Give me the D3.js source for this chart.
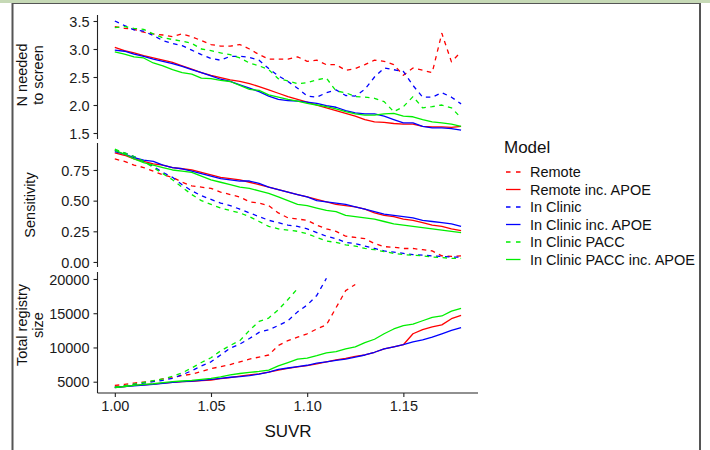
<!DOCTYPE html>
<html><head><meta charset="utf-8">
<script src="https://cdn.jsdelivr.net/npm/d3@7"></script>
<style>
html,body{margin:0;padding:0;background:#fff;}
svg{display:block;font-family:"Liberation Sans",Arial,Helvetica,sans-serif;}
</style></head>
<body><svg id="c" width="710" height="450"></svg>
<script>
// ---- data ----
const suvr = [1.000,1.005,1.010,1.015,1.020,1.025,1.030,1.035,1.040,1.045,1.050,1.055,1.060,1.065,1.070,1.075,1.080,1.085,1.090,1.095,1.100,1.105,1.110,1.115,1.120,1.125,1.130,1.135,1.140,1.145,1.150,1.155,1.160,1.165,1.170,1.175,1.180];

const models = ["Remote","Remote inc. APOE","In Clinic","In Clinic inc. APOE","In Clinic PACC","In Clinic PACC inc. APOE"];
const modelColors = ["#ff0000","#ff0000","#0000ff","#0000ff","#00ee00","#00ee00"];
const modelDashed = [true,false,true,false,true,false];

// N needed to screen
const nnsRemote      = [3.40,3.37,3.35,3.30,3.27,3.25,3.22,3.27,3.22,3.15,3.08,3.05,3.05,3.08,3.00,2.90,2.82,2.82,2.82,2.86,2.78,2.80,2.72,2.72,2.62,2.65,2.72,2.80,2.78,2.72,2.53,2.66,2.62,2.58,3.28,2.77,2.95];
const nnsRemoteApoe  = [3.03,2.97,2.93,2.88,2.84,2.80,2.76,2.70,2.64,2.58,2.53,2.49,2.45,2.42,2.38,2.33,2.27,2.21,2.15,2.10,2.05,2.00,1.95,1.90,1.85,1.80,1.74,1.70,1.69,1.67,1.66,1.66,1.62,1.61,1.61,1.60,1.62];
const nnsClinic      = [3.50,3.42,3.34,3.32,3.24,3.15,3.10,3.06,2.98,2.90,2.83,2.80,2.87,2.87,2.85,2.80,2.65,2.52,2.42,2.30,2.16,2.14,2.22,2.27,2.17,2.16,2.28,2.50,2.66,2.63,2.60,2.35,2.14,2.14,2.22,2.14,2.02];
const nnsClinicApoe  = [2.98,2.96,2.91,2.87,2.82,2.78,2.74,2.69,2.63,2.58,2.52,2.46,2.42,2.36,2.30,2.24,2.16,2.10,2.08,2.07,2.05,2.03,1.99,1.96,1.90,1.86,1.84,1.84,1.80,1.74,1.68,1.68,1.62,1.59,1.59,1.58,1.55];
const nnsPacc        = [3.38,3.40,3.37,3.35,3.27,3.20,3.17,3.14,3.10,3.00,2.97,2.93,2.90,2.84,2.75,2.70,2.63,2.47,2.43,2.38,2.40,2.45,2.48,2.25,2.22,2.15,2.14,2.12,2.06,1.88,1.97,2.15,1.95,1.97,2.00,1.95,1.77];
const nnsPaccApoe    = [2.95,2.91,2.86,2.84,2.75,2.70,2.63,2.58,2.55,2.48,2.47,2.44,2.42,2.35,2.28,2.26,2.18,2.14,2.10,2.07,2.03,2.00,1.97,1.93,1.88,1.84,1.82,1.82,1.84,1.85,1.80,1.79,1.74,1.70,1.68,1.66,1.62];

// Sensitivity
const sensRemote     = [0.84,0.82,0.79,0.77,0.74,0.71,0.69,0.65,0.62,0.61,0.60,0.57,0.55,0.53,0.49,0.48,0.46,0.40,0.36,0.35,0.34,0.30,0.27,0.25,0.21,0.20,0.19,0.15,0.125,0.12,0.11,0.11,0.10,0.09,0.05,0.045,0.05];
const sensRemoteApoe = [0.89,0.87,0.84,0.82,0.80,0.79,0.77,0.76,0.75,0.73,0.71,0.69,0.68,0.67,0.65,0.63,0.61,0.59,0.57,0.55,0.53,0.51,0.49,0.47,0.46,0.45,0.43,0.40,0.38,0.37,0.35,0.34,0.32,0.30,0.29,0.27,0.255];
const sensClinic     = [0.91,0.89,0.86,0.82,0.78,0.73,0.69,0.63,0.58,0.54,0.51,0.48,0.46,0.43,0.40,0.37,0.34,0.32,0.30,0.29,0.27,0.24,0.21,0.19,0.16,0.15,0.13,0.11,0.09,0.08,0.07,0.06,0.055,0.05,0.045,0.04,0.04];
const sensClinicApoe = [0.90,0.88,0.85,0.83,0.82,0.79,0.77,0.76,0.74,0.72,0.70,0.68,0.67,0.66,0.66,0.64,0.61,0.59,0.57,0.55,0.53,0.50,0.49,0.48,0.47,0.45,0.43,0.41,0.39,0.38,0.37,0.36,0.34,0.33,0.32,0.31,0.29];
const sensPacc       = [0.92,0.89,0.86,0.82,0.77,0.72,0.67,0.61,0.55,0.50,0.47,0.44,0.42,0.40,0.37,0.33,0.29,0.27,0.26,0.25,0.23,0.20,0.17,0.16,0.14,0.13,0.11,0.10,0.085,0.07,0.06,0.055,0.05,0.04,0.035,0.03,0.03];
const sensPaccApoe   = [0.91,0.88,0.84,0.81,0.79,0.77,0.75,0.74,0.73,0.70,0.67,0.65,0.63,0.61,0.60,0.58,0.56,0.53,0.50,0.47,0.46,0.44,0.42,0.41,0.38,0.37,0.36,0.35,0.33,0.31,0.30,0.29,0.28,0.27,0.26,0.25,0.24];

// Total registry size (dashed series stop where they leave the panel)
const regRemote      = [4450,4600,4800,4950,5100,5400,5600,5900,6100,6500,6900,7200,7500,7900,8300,8600,8900,10300,11000,11500,12000,12700,13300,15800,18300,19200];
const regRemoteApoe  = [4200,4300,4450,4550,4650,4800,4900,5000,5050,5150,5250,5450,5600,5800,6000,6150,6400,6700,6950,7150,7350,7600,7900,8200,8400,8700,8900,9300,9800,10100,10400,12000,12600,13000,13300,14200,14700];
const regClinic      = [4200,4400,4600,4800,5000,5200,5500,6000,6600,7300,7900,8900,9900,10500,11300,12200,12600,13200,13900,15200,16200,17600,20100];
const regClinicApoe  = [4150,4300,4400,4500,4600,4750,4900,5000,5100,5200,5350,5500,5650,5750,5900,6100,6400,6800,7000,7200,7400,7700,7900,8100,8300,8600,8900,9300,9800,10100,10400,10800,11100,11500,12000,12500,12900];
const regPacc        = [4200,4400,4650,4900,5150,5400,5800,6300,7000,7800,8500,9500,10300,11000,12500,13800,14300,15500,17000,18600];
const regPaccApoe    = [4150,4300,4450,4600,4700,4850,5000,5100,5200,5350,5500,5700,6000,6200,6350,6500,6700,7300,7800,8300,8450,8800,9200,9400,9800,10100,10700,11200,12000,12700,13200,13400,13900,14400,14600,15300,15700];

const xTicks = [1.00,1.05,1.10,1.15];
const nnsTicks = [1.5,2.0,2.5,3.0,3.5];
const sensTicks = [0.00,0.25,0.50,0.75];
const regTicks = [5000,10000,15000,20000];

// ---- layout ----
const svg = d3.select("#c");
const FONT = "Liberation Sans, Arial, Helvetica, sans-serif";

// frame
svg.append("rect").attr("x",0).attr("y",0).attr("width",710).attr("height",3).attr("fill","#c6d9b6");
svg.append("line").attr("x1",12).attr("x2",701).attr("y1",3.5).attr("y2",3.5).attr("stroke","#555").attr("stroke-width",1);
svg.append("line").attr("x1",12.5).attr("x2",12.5).attr("y1",3).attr("y2",450).attr("stroke","#555").attr("stroke-width",2);
svg.append("line").attr("x1",700).attr("x2",700).attr("y1",3).attr("y2",450).attr("stroke","#555").attr("stroke-width",2);

const axisX0 = 97.5;
const x = d3.scaleLinear().domain([0.991, 1.1888]).range([axisX0, 478]);

const panels = [
  {top:15, bottom:139, domain:[1.393,3.607], ticks:nnsTicks, fmt:d3.format(".1f"),
   series:[nnsRemote,nnsRemoteApoe,nnsClinic,nnsClinicApoe,nnsPacc,nnsPaccApoe],
   title:["N needed","to screen"], titleY:75},
  {top:143, bottom:267, domain:[-0.041,0.970], ticks:sensTicks, fmt:d3.format(".2f"),
   series:[sensRemote,sensRemoteApoe,sensClinic,sensClinicApoe,sensPacc,sensPaccApoe],
   title:["Sensitivity"], titleY:205},
  {top:272, bottom:393, domain:[3350,21020], ticks:regTicks, fmt:d3.format("d"),
   series:[regRemote,regRemoteApoe,regClinic,regClinicApoe,regPacc,regPaccApoe],
   title:["Total registry","size"], titleY:325}
];

panels.forEach((p,pi)=>{
  const y = d3.scaleLinear().domain(p.domain).range([p.bottom,p.top]);
  const g = svg.append("g");
  // data lines
  const line = d3.line().x(d=>x(d[0])).y(d=>y(d[1]));
  p.series.forEach((vals,si)=>{
    const pts = vals.map((v,i)=>[suvr[i],v]);
    g.append("path").attr("d",line(pts)).attr("fill","none")
      .attr("stroke",modelColors[si]).attr("stroke-width",1.3)
      .attr("stroke-dasharray",modelDashed[si]?"4.5,4.5":null)
      .attr("stroke-linejoin","round");
  });
  // y axis
  const ax = svg.append("g").attr("transform",`translate(${axisX0},0)`)
    .call(d3.axisLeft(y).tickValues(p.ticks).tickFormat(p.fmt).tickSize(4).tickPadding(4));
  ax.select(".domain").attr("d",`M0,${p.top}V${p.bottom}`).attr("stroke","#222").attr("stroke-width",1.1);
  ax.selectAll(".tick line").attr("stroke","#222").attr("stroke-width",1.1);
  ax.selectAll(".tick text").attr("font-size",14.5).attr("font-family",FONT).attr("fill","#1a1a1a").attr("dy","0.36em");
  // y title
  const t = svg.append("text").attr("transform",`translate(0,${p.titleY}) rotate(-90)`)
    .attr("text-anchor","middle").attr("font-size",14.5).attr("font-family",FONT).attr("fill","#111");
  if(p.title.length===2){
    t.append("tspan").attr("x",0).attr("y",27).text(p.title[0]);
    t.append("tspan").attr("x",0).attr("y",42.5).text(p.title[1]);
  } else {
    t.append("tspan").attr("x",0).attr("y",34.5).text(p.title[0]);
  }
  if(pi===2){
    const xa = svg.append("g").attr("transform",`translate(0,${p.bottom})`)
      .call(d3.axisBottom(x).tickValues(xTicks).tickFormat(d3.format(".2f")).tickSize(4).tickPadding(4));
    xa.select(".domain").attr("d",`M${axisX0},0H478`).attr("stroke","#222").attr("stroke-width",1.1);
    xa.selectAll(".tick line").attr("stroke","#222").attr("stroke-width",1.1);
    xa.selectAll(".tick text").attr("font-size",14.5).attr("font-family",FONT).attr("fill","#1a1a1a").attr("dy","0.71em");
  }
});

svg.append("text").attr("x",288).attr("y",437).attr("text-anchor","middle")
  .attr("font-size",17).attr("font-family",FONT).attr("fill","#111").text("SUVR");

// legend
const lg = svg.append("g");
lg.append("text").attr("x",504).attr("y",153).attr("font-size",17).attr("font-family",FONT).attr("fill","#111").text("Model");
models.forEach((m,i)=>{
  const cy = 172 + i*17.5;
  lg.append("line").attr("x1",506).attr("x2",520.5).attr("y1",cy).attr("y2",cy)
    .attr("stroke",modelColors[i]).attr("stroke-width",1.3)
    .attr("stroke-dasharray",modelDashed[i]?"4.5,5.5":null);
  lg.append("text").attr("x",530).attr("y",cy).attr("dy","0.36em").attr("font-size",14.5)
    .attr("font-family",FONT).attr("fill","#111").text(m);
});
</script></body></html>
